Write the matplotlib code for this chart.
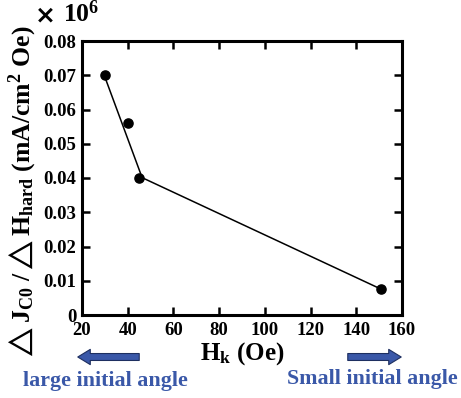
import matplotlib
matplotlib.use("Agg")
import matplotlib.pyplot as plt

# measured points
hk = [30, 40, 45, 151]
dj_dh = [0.070, 0.056, 0.040, 0.0075]

# piecewise fit line drawn through the data
fit_hk = [30, 46.3, 151]
fit_val = [0.0695, 0.0401, 0.0075]

xticks = [20, 40, 60, 80, 100, 120, 140, 160]
yticks = [0, 0.01, 0.02, 0.03, 0.04, 0.05, 0.06, 0.07, 0.08]
ytick_labels = ["0", "0.01", "0.02", "0.03", "0.04", "0.05", "0.06", "0.07", "0.08"]

blue = "#3a58a8"

plt.rcParams["font.family"] = ["Liberation Serif", "DejaVu Sans"]
plt.rcParams["font.weight"] = "bold"
plt.rcParams["mathtext.fontset"] = "custom"
plt.rcParams["mathtext.rm"] = "Liberation Serif:bold"
plt.rcParams["mathtext.bf"] = "Liberation Serif:bold"
plt.rcParams["mathtext.it"] = "Liberation Serif:bold"
plt.rcParams["mathtext.fallback"] = "stix"

fig = plt.figure(figsize=(4.61, 3.98), dpi=100)
ax = fig.add_axes([82 / 461, 1 - 315 / 398, 320 / 461, 274 / 398])

ax.plot(fit_hk, fit_val, color="black", linewidth=1.1)
ax.plot(hk, dj_dh, "o", color="black", markersize=6.6)

ax.set_xlim(20, 160)
ax.set_ylim(0, 0.08)
ax.set_xticks(xticks)
ax.set_yticks(yticks)
ax.set_yticklabels(ytick_labels)
ax.tick_params(direction="in", length=6, width=1.8, top=True, right=True,
               labelsize=13.5, pad=4)
ax.tick_params(axis="x", pad=5)
for lab in ax.get_xticklabels() + ax.get_yticklabels():
    lab.set_fontweight("bold")
for sp in ax.spines.values():
    sp.set_linewidth(2.2)

ax.set_xlabel(r"H$_{\mathbf{k}}$ (Oe)", fontsize=18, fontweight="bold", labelpad=1)
ax.set_ylabel(r"$\triangle$J$_{\mathbf{C0}}$ /$\triangle$H$_{\mathbf{hard}}$ (mA/cm$^{\mathbf{2}}$ Oe)",
              fontsize=18.5, fontweight="bold")
ax.yaxis.set_label_coords(-45 / 320, 0.5 - 15 / 274)

# multiplier in the upper left corner
fig.text(45 / 461, 1 - 15 / 398, "×", fontsize=18, fontweight="bold",
         family="DejaVu Sans", va="center", ha="center")
fig.text(63 / 461, 1 - 14 / 398, "10$^{\\mathbf{6}}$", fontsize=18.5,
         fontweight="bold", va="center", ha="left")

# direction arrows below the x axis
arrow_kw = dict(arrowstyle="simple,head_width=1.1,head_length=0.9,tail_width=0.5",
                fc=blue, ec="#1e2f60", lw=0.8)
ax.annotate("", xy=(75 / 461, 1 - 357 / 398), xytext=(142 / 461, 1 - 357 / 398),
            xycoords="figure fraction", textcoords="figure fraction", arrowprops=arrow_kw)
ax.annotate("", xy=(404 / 461, 1 - 357 / 398), xytext=(345 / 461, 1 - 357 / 398),
            xycoords="figure fraction", textcoords="figure fraction", arrowprops=arrow_kw)

fig.text(105 / 461, 1 - 381 / 398, "large initial angle", color=blue, fontsize=15.8,
         fontweight="bold", ha="center", va="center")
fig.text(372 / 461, 1 - 379 / 398, "Small initial angle", color=blue, fontsize=15.8,
         fontweight="bold", ha="center", va="center")

fig.savefig("out.png", dpi=100)
